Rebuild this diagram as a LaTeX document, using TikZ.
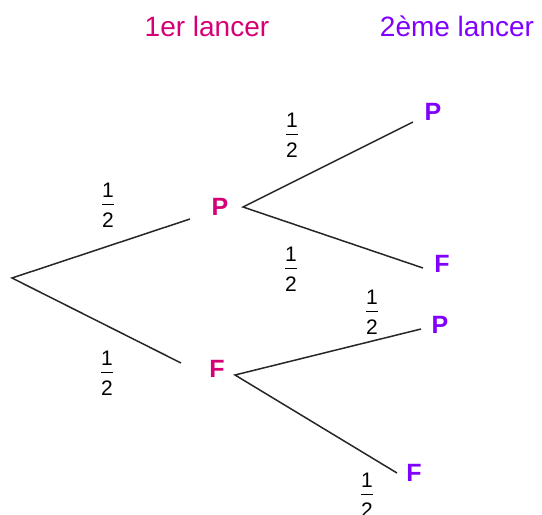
\documentclass[tikz,border=0pt]{standalone}
\usepackage{fontspec}
\setmainfont{Liberation Sans}
\usetikzlibrary{calc}
\definecolor{tirun}{RGB}{214, 0, 118}
\definecolor{tirdeux}{RGB}{128, 0, 255}
\newcommand{\demi}{1\\\rule[7pt]{12pt}{1.3pt}\\2}

\begin{document}
\begin{tikzpicture}[x=1pt, y=-1pt]
                \tikzstyle{titre}=[inner sep=0, font=\fontsize{28}{30}\selectfont]
                \tikzstyle{issue}=[inner sep=0, font=\fontsize{25}{27}\selectfont\bfseries]
                \tikzstyle{frac}=[inner sep=0, align=center, font=\fontsize{21}{15}\selectfont]
                \tikzstyle{branche}=[black!85, line width=1.5pt]
                \useasboundingbox (0,0) rectangle (542,515);
                
                % Titles
                \node[titre, text=tirun] (t1) at (207, 26) {1er lancer};
                \node[titre, text=tirdeux] (t2) at (457, 26) {2ème lancer};
                
                % First throw
                \coordinate (r) at (12, 278);
                \node[issue, text=tirun] (p) at (220, 207) {P};
                \node[issue, text=tirun] (f) at (217, 369) {F};
                
                % Second throw
                \node[issue, text=tirdeux] (pp) at (433, 112) {P};
                \node[issue, text=tirdeux] (pf) at (442, 264) {F};
                \node[issue, text=tirdeux] (fp) at (440, 325) {P};
                \node[issue, text=tirdeux] (ff) at (414, 473) {F};
                
                % Probabilities
                \foreach \x/\y/\name in {108/205/q1,107/373/q2,292/135/q3,291/269/q4,372/312/q5,367/495/q6} {
                    \node[frac] (\name) at (\x, \y) {\demi};
                }
                
                % Branches
                \draw[branche] ($(p)+(-30,12)$) -- (r) -- ($(f)+(-36,-6)$);
                \draw[branche] ($(pp)+(-20,10)$) -- ($(p)+(23,0)$) -- ($(pf)+(-19,4)$);
                \draw[branche] ($(fp)+(-19,4)$) -- ($(f)+(18,6)$) -- ($(ff)+(-17,0)$);
            \end{tikzpicture}
\end{document}
